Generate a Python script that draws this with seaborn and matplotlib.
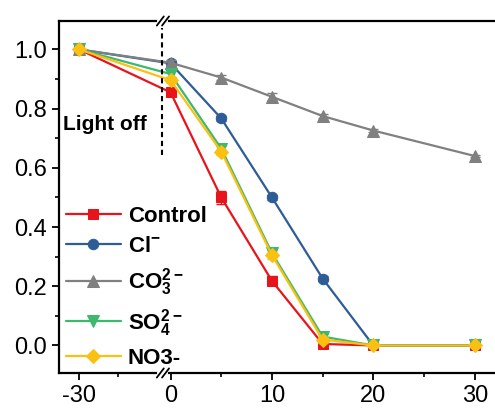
import numpy as np
import pandas as pd
import matplotlib
matplotlib.use("Agg")
import matplotlib.pyplot as plt
import matplotlib.transforms as mtransforms
import seaborn as sns

# Data
time_min = [-30, 0, 5, 10, 15, 20, 30]
control = [1.00, 0.855, 0.50, 0.218, 0.005, 0.0, 0.0]
chloride = [1.00, 0.953, 0.767, 0.50, 0.226, 0.0, 0.0]
carbonate = [1.00, 0.955, 0.905, 0.840, 0.775, 0.726, 0.640]
sulfate = [1.00, 0.917, 0.665, 0.312, 0.030, 0.0, 0.0]
nitrate = [1.00, 0.896, 0.655, 0.305, 0.020, 0.0, 0.0]
control_err = [0.0, 0.010, 0.022, 0.015, 0.010, 0.005, 0.005]
chloride_err = [0.0, 0.008, 0.008, 0.008, 0.008, 0.005, 0.005]
carbonate_err = [0.0, 0.008, 0.008, 0.012, 0.008, 0.005, 0.005]
sulfate_err = [0.0, 0.010, 0.010, 0.012, 0.010, 0.005, 0.005]
nitrate_err = [0.0, 0.010, 0.010, 0.012, 0.010, 0.005, 0.005]

series_names = ["Control", r"$\mathbf{Cl^{-}}$", r"$\mathbf{CO_3^{2-}}$",
                r"$\mathbf{SO_4^{2-}}$", "NO3-"]
series_vals = [control, chloride, carbonate, sulfate, nitrate]
series_errs = [control_err, chloride_err, carbonate_err, sulfate_err, nitrate_err]
colors = ["#E8141B", "#2E5C97", "#808080", "#3DB96E", "#FBC012"]
markers = ["s", "o", "^", "v", "D"]
msizes = [7, 7.5, 8, 8, 7]

x_ticks = [-30, 0, 10, 20, 30]
x_minor = [-25, 5, 15, 25]

sns.set_style("ticks")
plt.rcParams["font.family"] = ["Liberation Sans", "DejaVu Sans"]
plt.rcParams["text.color"] = "black"
plt.rcParams["mathtext.fontset"] = "custom"
plt.rcParams["mathtext.rm"] = "Liberation Sans"
plt.rcParams["mathtext.bf"] = "Liberation Sans:bold"

# broken x axis: compress the -30 side, hide the gap before 0
gap_a, gap_b = -19.23, -0.74
k_left = 0.768
far = 1000.0
xp = [-far, gap_a, gap_b, far]
fp = [gap_b - 0.005 - (gap_a + far) * k_left, gap_b - 0.005, gap_b, far]


def fwd(x):
    return np.interp(x, xp, fp)


def inv(x):
    return np.interp(x, fp, xp)


fig = plt.figure(figsize=(4.95, 4.08), dpi=100)
ax = fig.add_axes([0.119, 0.0858, 0.881, 0.8627])
ax.set_xscale("function", functions=(fwd, inv))

rows = []
for name, vals in zip(series_names, series_vals):
    for t, v in zip(time_min, vals):
        rows.append({"time": t, "C/C0": v, "sample": name})
df = pd.DataFrame(rows)

for name, vals, errs, c, m, ms in zip(series_names, series_vals, series_errs,
                                      colors, markers, msizes):
    sub = df[df["sample"] == name]
    sns.lineplot(data=sub, x="time", y="C/C0", color=c, lw=1.6, ax=ax,
                 marker=m, markersize=ms, markeredgecolor=c, label=name)
    ax.errorbar(time_min, vals, yerr=errs, fmt="none", ecolor=c, elinewidth=1,
                capsize=3.5, capthick=1)

ax.set_xlim(-32.6, 32.0)
ax.set_ylim(-0.093, 1.096)
ax.set_xticks(x_ticks)
ax.set_xticklabels([str(t) for t in x_ticks])
ax.set_xticks(x_minor, minor=True)
ax.set_yticks([0.0, 0.2, 0.4, 0.6, 0.8, 1.0])
ax.set_yticks(np.arange(0.1, 1.0, 0.2), minor=True)
ax.set_xlabel("")
ax.set_ylabel("")
ax.tick_params(axis="both", which="major", labelsize=17, width=1.3, length=5,
               direction="out", color="black", labelcolor="black")
ax.tick_params(axis="both", which="minor", width=1.2, length=3, direction="out",
               color="black")
for side in ["left", "bottom", "top"]:
    ax.spines[side].set_visible(True)
    ax.spines[side].set_linewidth(1.6)
    ax.spines[side].set_color("black")
ax.spines["right"].set_visible(False)

# break marks and light-off line
bx = (163 - 59) / (495 - 59)
blend = mtransforms.blended_transform_factory(ax.transAxes, ax.transData)
for yb in [0.0, 1.0]:
    ax.plot([bx - 0.008, bx + 0.008], [yb, yb], transform=ax.transAxes,
            color="white", lw=3, clip_on=False, zorder=5)
    for dx in [-0.006, 0.006]:
        ax.plot([bx + dx - 0.008, bx + dx + 0.008], [yb - 0.013, yb + 0.013],
                transform=ax.transAxes, color="black", lw=1.3, clip_on=False,
                zorder=6)
ax.plot([bx - 0.003, bx - 0.003], [0.643, 1.072], transform=blend,
        color="black", lw=1.5, ls=(0, (2.5, 1.8)), zorder=4)
ax.text(0.01, 0.745, "Light off", transform=blend, fontsize=15,
        fontweight="bold", va="center", ha="left", color="black")

leg = ax.legend(loc="lower left", frameon=False, fontsize=16,
                handlelength=2.5, labelspacing=0.4, borderaxespad=0.05,
                borderpad=0.15, handletextpad=0.3, bbox_to_anchor=(0.005, 0.0))
for txt in leg.get_texts():
    txt.set_fontweight("bold")
    txt.set_color("black")

fig.savefig("out.png", dpi=100)
